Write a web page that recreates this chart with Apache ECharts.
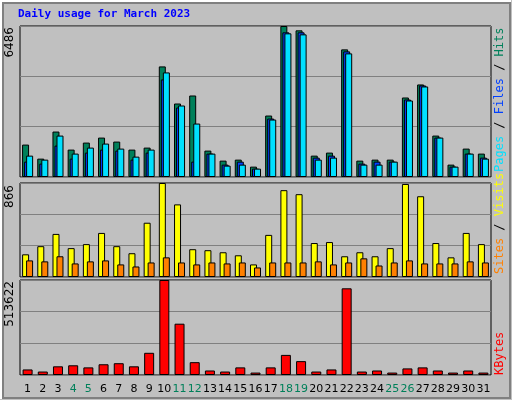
<!DOCTYPE html>
<html><head><meta charset="utf-8">
<script src="https://cdn.jsdelivr.net/npm/echarts@6/dist/echarts.min.js"></script>
<style>body{margin:0;background:#c0c0c0}#c{width:512px;height:400px}</style>
</head><body><div id="c"></div>
<script>
const days = Array.from({length:31},(_, i)=>String(i+1));
const weekendDays = [4,5,11,12,18,19,25,26];
const hits  = [1392,789,1952,1177,1478,1693,1521,1177,1263,4750,3157,3501,1134,703,746,445,2640,6486,6300,918,1048,5482,703,746,746,3415,3975,1779,531,1220,1005];
const files = [660,574,1349,789,1048,1177,1134,746,1048,4190,2985,660,1005,531,660,359,2511,6214,6214,832,918,5396,574,660,660,3329,3932,1693,445,1005,832];
const pages = [918,746,1779,1005,1263,1435,1220,875,1177,4492,3071,2296,1005,488,531,359,2468,6171,6127,746,832,5310,531,531,660,3286,3889,1693,445,1005,789];
const visits= [209,284,397,266,303,406,284,219,500,866,669,256,247,228,200,116,388,800,763,313,322,191,228,191,266,857,744,313,181,406,303];
const sites = [153,144,191,125,144,153,116,97,134,181,134,116,134,125,134,88,134,134,134,144,116,134,172,106,134,153,125,125,125,144,134];
const kbytes= [30000,18700,46900,52500,41200,58100,63700,46900,120000,513622,277400,69400,24400,18700,41200,13100,41200,108700,75000,18700,30000,468600,18700,24400,13100,35600,41200,24400,13100,24400,13100];
const maxHits=6486, maxVisits=866, maxKB=513622;

const grids=[{top:26,height:151},{top:183,height:94},{top:280,height:95}];
const bs={borderColor:'#000',borderWidth:1};
function xa(i,show){return {type:'category',gridIndex:i,data:days,boundaryGap:true,
  axisLine:{show:false},axisTick:{show:false},
  axisLabel:{show:show,margin:9,fontFamily:'DejaVu Sans',fontSize:11,interval:0,
    color:(v)=>weekendDays.includes(+v)?'#00805a':'#000'}};}
function ya(i,max){return {type:'value',gridIndex:i,min:0,max:max,interval:max/3,
  axisLabel:{show:false},axisLine:{show:false},axisTick:{show:false},
  splitLine:{lineStyle:{color:'#808080',width:1}}};}
const mono='12px "DejaVu Sans Mono"';
const chart=echarts.init(document.getElementById('c'));
chart.setOption({
  animation:false,backgroundColor:'#c0c0c0',
  grid:grids.map(g=>({left:20,right:21,top:g.top,height:g.height,show:true,backgroundColor:'#c0c0c0',borderColor:'#000',borderWidth:1})),
  xAxis:[xa(0,false),xa(1,false),xa(2,true)],
  yAxis:[ya(0,maxHits),ya(1,maxVisits),ya(2,maxKB)],
  series:[
    {type:'bar',name:'Hits',xAxisIndex:0,yAxisIndex:0,data:hits,barWidth:7,barGap:'-71%',itemStyle:Object.assign({color:'#00805a'},bs)},
    {type:'bar',name:'Files',xAxisIndex:0,yAxisIndex:0,data:files,barWidth:7,barGap:'-71%',itemStyle:Object.assign({color:'#0040ff'},bs)},
    {type:'bar',name:'Pages',xAxisIndex:0,yAxisIndex:0,data:pages,barWidth:7,barGap:'-71%',itemStyle:Object.assign({color:'#00e0ff'},bs)},
    {type:'bar',name:'Visits',xAxisIndex:1,yAxisIndex:1,data:visits,barWidth:7,barGap:'-43%',itemStyle:Object.assign({color:'#ffff00'},bs)},
    {type:'bar',name:'Sites',xAxisIndex:1,yAxisIndex:1,data:sites,barWidth:7,barGap:'-43%',itemStyle:Object.assign({color:'#ff8000'},bs)},
    {type:'bar',name:'KBytes',xAxisIndex:2,yAxisIndex:2,data:kbytes,barWidth:10,itemStyle:Object.assign({color:'#ff0000'},bs)}
  ],
  graphic:[
    {type:'rect',shape:{x:1,y:1,width:509,height:397},style:{fill:'none',stroke:'#fff',lineWidth:2},silent:true},
    {type:'rect',shape:{x:3,y:3,width:507,height:395},style:{fill:'none',stroke:'#808080',lineWidth:2},silent:true},
    {type:'text',left:18,top:9,style:{text:'Daily usage for March 2023',fill:'#0000ff',font:'bold 11px "DejaVu Sans Mono"'}},
    {type:'text',x:10,y:27,rotation:Math.PI/2,style:{text:'6486',fill:'#000',font:'12px "DejaVu Sans"',align:'right',verticalAlign:'middle'}},
    {type:'text',x:10,y:185,rotation:Math.PI/2,style:{text:'866',fill:'#000',font:'12px "DejaVu Sans"',align:'right',verticalAlign:'middle'}},
    {type:'text',x:10,y:281,rotation:Math.PI/2,style:{text:'513622',fill:'#000',font:'12px "DejaVu Sans"',align:'right',verticalAlign:'middle'}},
    {type:'text',x:500,y:172,rotation:Math.PI/2,style:{text:'{p|Pages}{s| / }{f|Files}{s| / }{h|Hits}',align:'left',verticalAlign:'middle',
      rich:{p:{fill:'#00e0ff',font:mono},f:{fill:'#0040ff',font:mono},h:{fill:'#00805a',font:mono},s:{fill:'#000',font:mono}}}},
    {type:'text',x:500,y:274,rotation:Math.PI/2,style:{text:'{a|Sites}{s| / }{b|Visits}',align:'left',verticalAlign:'middle',
      rich:{a:{fill:'#ff8000',font:mono},b:{fill:'#ffff00',font:mono},s:{fill:'#000',font:mono}}}},
    {type:'text',x:500,y:375,rotation:Math.PI/2,style:{text:'KBytes',fill:'#ff0000',font:mono,align:'left',verticalAlign:'middle'}}
  ]
});
</script></body></html>
